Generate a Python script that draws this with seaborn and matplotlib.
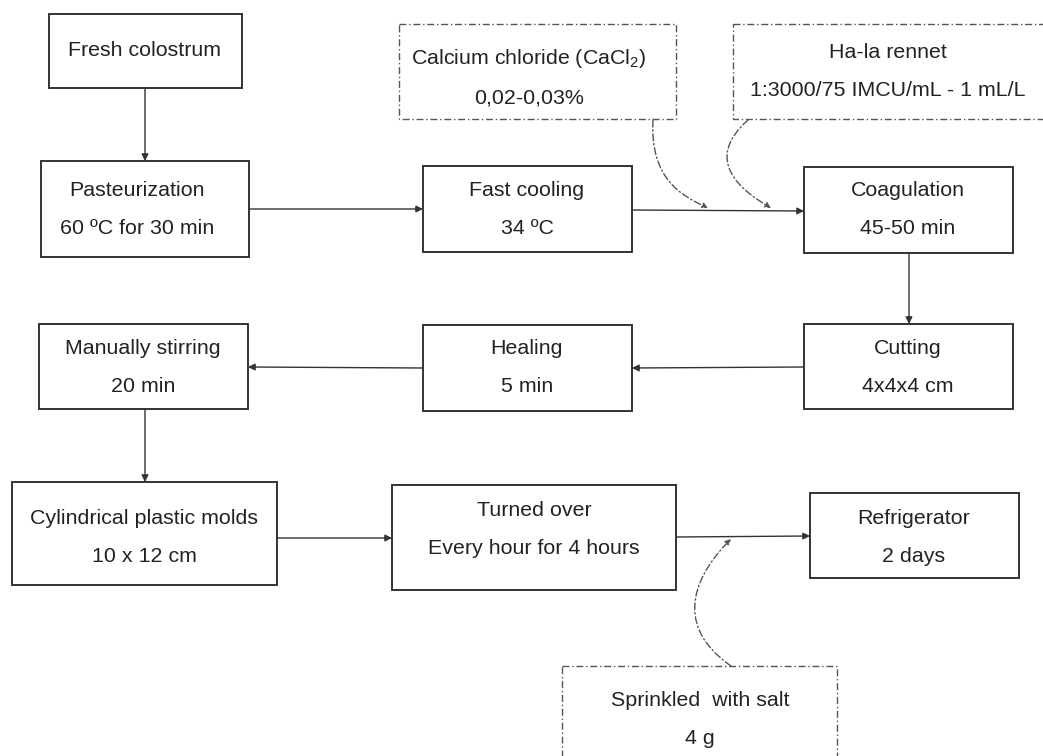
import matplotlib
matplotlib.use("Agg")
import matplotlib.pyplot as plt
import seaborn as sns
from matplotlib.patches import Rectangle, FancyArrowPatch
from matplotlib.path import Path

sns.set_theme(style="white")
plt.rcParams['font.family'] = ['Liberation Sans', 'DejaVu Sans']
plt.rcParams['mathtext.default'] = 'regular'

# ---- content ----
step_titles = ["Fresh colostrum", "Pasteurization", "Fast cooling", "Coagulation",
               "Cutting", "Healing", "Manually stirring",
               "Cylindrical plastic molds", "Turned over", "Refrigerator"]
step_details = ["", "60 ºC for 30 min", "34 ºC", "45-50 min",
                "4x4x4 cm", "5 min", "20 min",
                "10 x 12 cm", "Every hour for 4 hours", "2 days"]
additive_titles = ["Calcium chloride (CaCl$_2$)", "Ha-la rennet", "Sprinkled  with salt"]
additive_details = ["0,02-0,03%", "1:3000/75 IMCU/mL - 1 mL/L", "4 g"]

# ---- layout (pixel coords: x0, y0, x1, y1) ----
step_boxes = [(49, 14, 242, 88), (41, 161, 249, 257), (423, 166, 632, 252),
              (804, 167, 1013, 253), (804, 324, 1013, 409), (423, 325, 632, 411),
              (39, 324, 248, 409), (12, 482, 277, 585), (392, 485, 676, 590),
              (810, 493, 1019, 578)]
step_text_y = [(51, None), (190, 229), (190, 229), (190, 229), (348, 387),
               (348, 387), (349, 386), (518, 556), (511, 549), (518, 556)]
step_text_x = [145, 137, 527, 908, 908, 527, 143, 144, 534, 914]
add_boxes = [(399, 24, 676, 119), (733, 24, 1050, 119), (562, 666, 837, 770)]
add_text_y = [(58, 98), (53, 91), (701, 739)]
add_text_x = [529, 888, 700]

arrows = [((145, 88), (145, 161)), ((249, 209), (423, 209)), ((632, 210), (804, 211)),
          ((909, 253), (909, 324)), ((804, 367), (632, 368)), ((423, 368), (248, 367)),
          ((145, 409), (145, 482)), ((277, 538), (392, 538)), ((676, 537), (810, 536))]
curves = [[(653, 120), (650, 178), (680, 195), (708, 208)],
          [(748, 120), (703, 160), (740, 190), (771, 208)],
          [(731, 666), (668, 622), (700, 570), (731, 539)]]

EDGE = "#333333"
DASH = (0, (5, 2, 1, 2))
FS = 15.4

fig = plt.figure(figsize=(10.43, 7.56), dpi=100)
ax = fig.add_axes([0, 0, 1, 1])
ax.set_xlim(0, 1043)
ax.set_ylim(756, 0)
ax.axis("off")

for (x0, y0, x1, y1), title, det, (ty1, ty2), tx in zip(step_boxes, step_titles, step_details,
                                                       step_text_y, step_text_x):
    ax.add_patch(Rectangle((x0, y0), x1 - x0, y1 - y0, fill=False, ec=EDGE, lw=1.4))
    ax.text(tx, ty1, title, ha="center", va="center", fontsize=FS, color="#222222")
    if det:
        ax.text(tx, ty2, det, ha="center", va="center", fontsize=FS, color="#222222")

for (x0, y0, x1, y1), title, det, (ty1, ty2), tx in zip(add_boxes, additive_titles, additive_details,
                                                       add_text_y, add_text_x):
    ax.add_patch(Rectangle((x0, y0), x1 - x0, y1 - y0, fill=False, ec="#555555", lw=1.0,
                           linestyle=DASH))
    ax.text(tx, ty1, title, ha="center", va="center", fontsize=FS, color="#222222")
    ax.text(tx, ty2, det, ha="center", va="center", fontsize=FS, color="#222222")

for start, end in arrows:
    ax.add_patch(FancyArrowPatch(start, end, arrowstyle="-|>", mutation_scale=10,
                                 color=EDGE, lw=1.0, shrinkA=0, shrinkB=0))

for pts in curves:
    path = Path(pts, [Path.MOVETO, Path.CURVE4, Path.CURVE4, Path.CURVE4])
    ax.add_patch(FancyArrowPatch(path=path, arrowstyle="-|>", mutation_scale=8,
                                 color="#555555", lw=1.0, linestyle=DASH))

fig.savefig("out.png", dpi=100, facecolor="white")
